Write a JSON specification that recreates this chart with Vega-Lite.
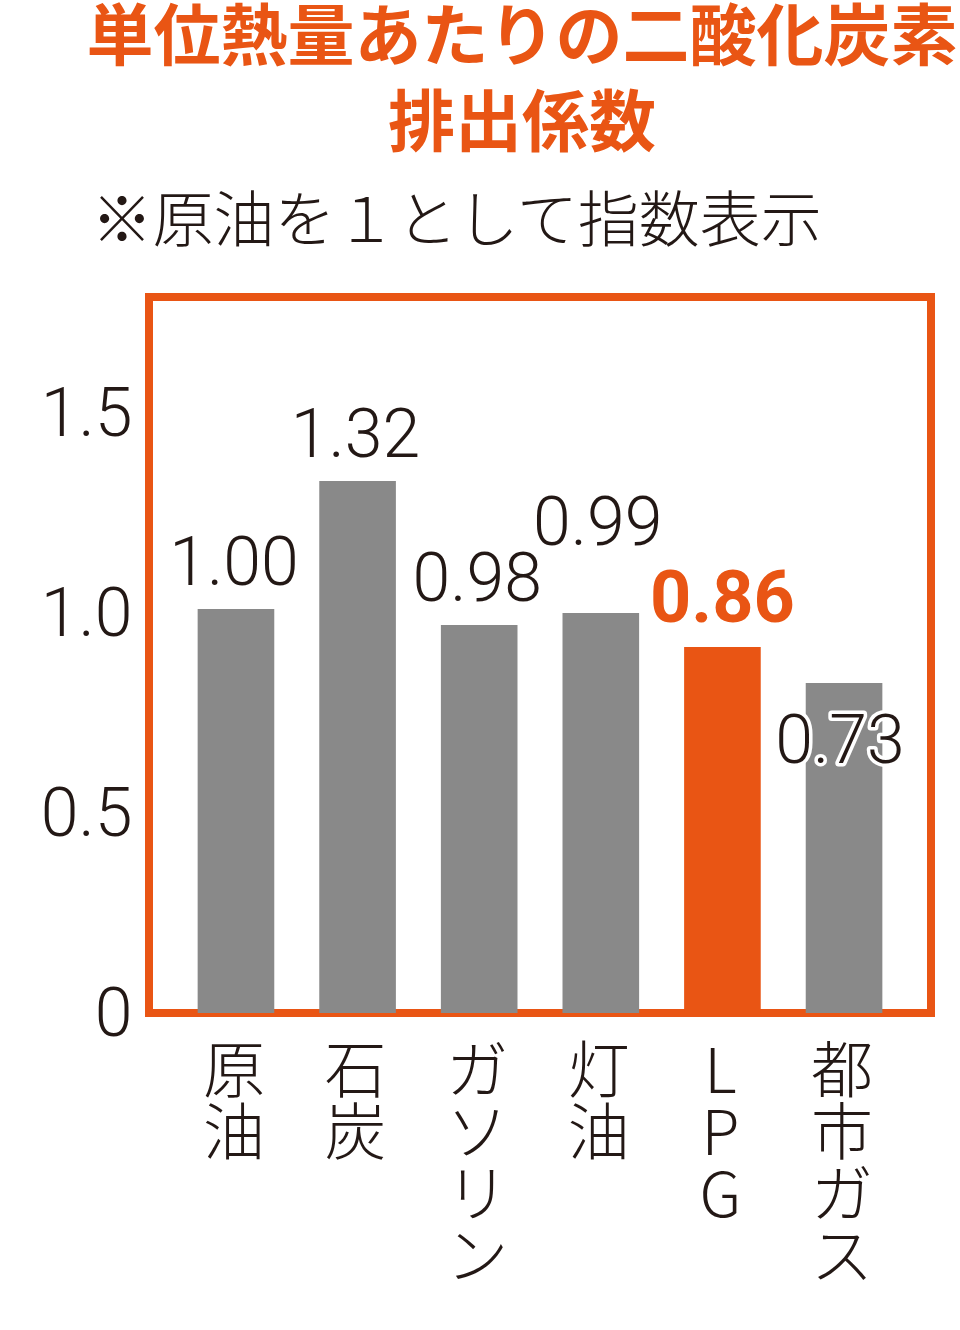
{
  "$schema": "https://vega.github.io/schema/vega-lite/v6.json",
  "autosize": "none",
  "width": 782,
  "height": 716,
  "padding": {"left": 149, "top": 297, "right": 29, "bottom": 317},
  "background": "white",
  "title": {
    "text": ["単位熱量あたりの二酸化炭素", "排出係数"],
    "anchor": "middle",
    "frame": "group",
    "dx": -18,
    "font": "Noto Sans CJK JP",
    "fontSize": 67,
    "fontWeight": 700,
    "color": "#E95514",
    "lineHeight": 86,
    "offset": 32
  },
  "data": {
    "values": [
      {"name": "原油", "value": 1.01, "label": "1.00"},
      {"name": "石炭", "value": 1.33, "label": "1.32"},
      {"name": "ガソリン", "value": 0.97, "label": "0.98"},
      {"name": "灯油", "value": 1.0, "label": "0.99"},
      {"name": "LPG", "value": 0.915, "label": "0.86"},
      {"name": "都市ガス", "value": 0.825, "label": "0.73"}
    ]
  },
  "encoding": {
    "x": {
      "field": "name",
      "type": "nominal",
      "sort": null,
      "scale": {"paddingInner": 0.37, "paddingOuter": 0.4},
      "axis": {
        "title": null,
        "labelAngle": 0,
        "labelExpr": "split(datum.label, '')",
        "labelFont": "Noto Sans CJK JP",
        "labelFontWeight": 300,
        "labelFontSize": 62,
        "labelLineHeight": 62,
        "labelColor": "#231815",
        "labelBaseline": "top",
        "labelPadding": 30,
        "labelOffset": -2,
        "domain": false,
        "ticks": false
      }
    },
    "y": {
      "field": "value",
      "type": "quantitative",
      "scale": {"domain": [0, 1.79], "nice": false},
      "axis": {
        "title": "※原油を１として指数表示",
        "titleAngle": 0,
        "titleAlign": "left",
        "titleBaseline": "alphabetic",
        "titleX": -58,
        "titleY": -56,
        "titleFont": "Noto Sans CJK JP",
        "titleFontSize": 61,
        "titleFontWeight": 300,
        "titleColor": "#231815",
        "values": [0, 0.5, 1.0, 1.5],
        "labelExpr": "datum.value == 0 ? '0' : format(datum.value, '.1f')",
        "labelFont": "Roboto",
        "labelFontWeight": 300,
        "labelFontSize": 68,
        "labelColor": "#231815",
        "labelPadding": 17,
        "labelOffset": 2,
        "domain": false,
        "ticks": false,
        "grid": false
      }
    }
  },
  "layer": [
    {
      "mark": {"type": "bar"},
      "encoding": {
        "color": {
          "condition": {"test": "datum.name === 'LPG'", "value": "#E95514"},
          "value": "#898989"
        }
      }
    },
    {
      "transform": [{"filter": "indexof(['原油','石炭','ガソリン'], datum.name) >= 0"}],
      "mark": {"type": "text", "font": "Roboto", "fontWeight": 300, "fontSize": 68, "color": "#231815", "baseline": "alphabetic", "dy": -24, "dx": -2},
      "encoding": {"text": {"field": "label"}}
    },
    {
      "transform": [{"filter": "datum.name === '灯油'"}],
      "mark": {"type": "text", "font": "Roboto", "fontWeight": 300, "fontSize": 68, "color": "#231815", "baseline": "alphabetic", "dy": -68, "dx": -3},
      "encoding": {"text": {"field": "label"}}
    },
    {
      "transform": [{"filter": "datum.name === 'LPG'"}],
      "mark": {"type": "text", "font": "Roboto", "fontWeight": 700, "fontSize": 72, "color": "#E95514", "baseline": "alphabetic", "dy": -25},
      "encoding": {"text": {"field": "label"}}
    },
    {
      "transform": [{"filter": "datum.name === '都市ガス'"}],
      "mark": {"type": "text", "font": "Roboto", "fontWeight": 300, "fontSize": 68, "color": "#231815", "stroke": "white", "strokeWidth": 7, "strokeJoin": "round", "baseline": "alphabetic", "dy": 80, "dx": -4},
      "encoding": {"text": {"field": "label"}}
    },
    {
      "transform": [{"filter": "datum.name === '都市ガス'"}],
      "mark": {"type": "text", "font": "Roboto", "fontWeight": 300, "fontSize": 68, "color": "#231815", "baseline": "alphabetic", "dy": 80, "dx": -4},
      "encoding": {"text": {"field": "label"}}
    }
  ],
  "config": {
    "view": {"stroke": "#E95514", "strokeWidth": 8}
  }
}
